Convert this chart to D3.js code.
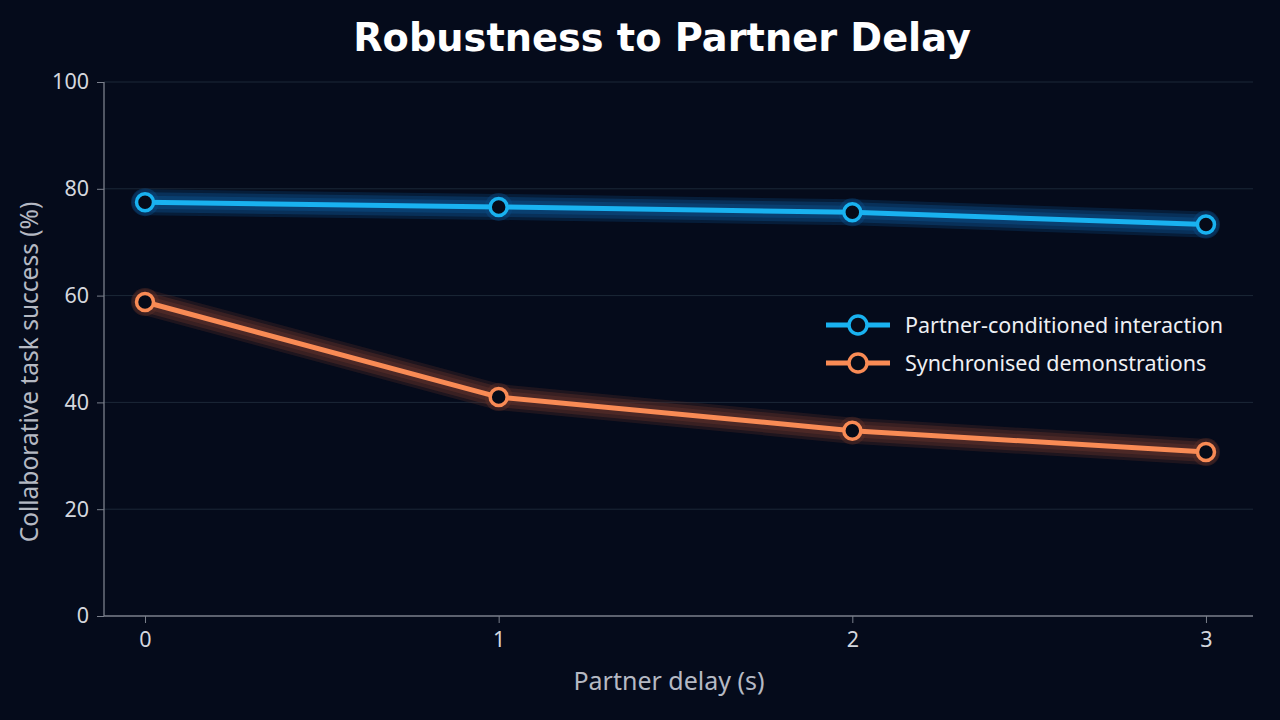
<!DOCTYPE html>
<html><head><meta charset="utf-8">
<script src="https://cdn.jsdelivr.net/npm/d3@7"></script>
<style>
html,body{margin:0;padding:0;background:#050b1b;}
svg{display:block;}
</style></head>
<body>
<svg id="chart" width="1280" height="720"></svg>
<script>
const delays = [0, 1, 2, 3];
const partnerConditioned = [77.5, 76.6, 75.6, 73.3];
const synchronised = [58.8, 41.0, 34.7, 30.7];
const seriesNames = ["Partner-conditioned interaction", "Synchronised demonstrations"];
const seriesColors = ["#19b2f0", "#f98b55"];
const glowColors = ["#0a4a80", "#5a2f29"];
const yTicks = [0, 20, 40, 60, 80, 100];
const xTicks = [0, 1, 2, 3];

const svg = d3.select("#chart");
const W = 1280, H = 720;
const m = {left: 104, right: 27, top: 82, bottom: 104};

svg.append("rect").attr("width", W).attr("height", H).attr("fill", "#050b1b");

const x = d3.scaleLinear().domain([-0.116, 3.133]).range([m.left, W - m.right]);
const y = d3.scaleLinear().domain([0, 100]).range([H - m.bottom, m.top]);

const font = "'Noto Sans', 'Open Sans', sans-serif";

// gridlines
svg.append("g").selectAll("line").data(yTicks.filter(d => d > 0)).join("line")
  .attr("x1", m.left).attr("x2", W - m.right)
  .attr("y1", d => y(d)).attr("y2", d => y(d))
  .attr("stroke", "#1c2838").attr("stroke-width", 1);

// axes
const yAxis = svg.append("g").attr("transform", `translate(${m.left},0)`)
  .call(d3.axisLeft(y).tickValues(yTicks).tickSize(7).tickPadding(8));
const xAxis = svg.append("g").attr("transform", `translate(0,${H - m.bottom})`)
  .call(d3.axisBottom(x).tickValues(xTicks).tickSize(7).tickPadding(9).tickFormat(d3.format("d")));
[yAxis, xAxis].forEach(g => {
  g.select(".domain").attr("stroke", "#7b808c").attr("stroke-width", 1.3);
  g.selectAll(".tick line").attr("stroke", "#7b808c").attr("stroke-width", 1);
  g.selectAll(".tick text").attr("fill", "#d4d7de").attr("font-size", 21.5).attr("font-family", font);
});
yAxis.select(".domain").attr("d", `M0,${y(100)}V${y(0)}`);
xAxis.select(".domain").attr("d", `M${m.left},0H${W - m.right}`);

const data = [partnerConditioned, synchronised];
const line = d3.line().x((d, i) => x(delays[i])).y(d => y(d));

data.forEach((vals, s) => {
  const g = svg.append("g");
  [[26, 0.3], [20, 0.45], [13, 0.6]].forEach(([w, o]) => {
    g.append("path").attr("d", line(vals)).attr("fill", "none")
      .attr("stroke", glowColors[s]).attr("stroke-width", w).attr("stroke-opacity", o)
      .attr("stroke-linejoin", "round").attr("stroke-linecap", "round");
  });
  g.selectAll("circle.halo").data(vals).join("circle").attr("class", "halo")
    .attr("cx", (d, i) => x(delays[i])).attr("cy", d => y(d)).attr("r", 14)
    .attr("fill", glowColors[s]).attr("opacity", 0.45);
  g.append("path").attr("d", line(vals)).attr("fill", "none")
    .attr("stroke", seriesColors[s]).attr("stroke-width", 5)
    .attr("stroke-linejoin", "round").attr("stroke-linecap", "round");
  g.selectAll("circle.pt").data(vals).join("circle").attr("class", "pt")
    .attr("cx", (d, i) => x(delays[i])).attr("cy", d => y(d)).attr("r", 8.5)
    .attr("fill", "#060b18").attr("stroke", seriesColors[s]).attr("stroke-width", 3.5);
});

// legend
const lg = svg.append("g").attr("transform", "translate(826,325)");
seriesNames.forEach((name, i) => {
  const row = lg.append("g").attr("transform", `translate(0,${i * 38})`);
  row.append("line").attr("x1", 0).attr("x2", 64).attr("y1", 0).attr("y2", 0)
    .attr("stroke", seriesColors[i]).attr("stroke-width", 5);
  row.append("circle").attr("cx", 32).attr("cy", 0).attr("r", 9)
    .attr("fill", "#060b18").attr("stroke", seriesColors[i]).attr("stroke-width", 3.5);
  row.append("text").attr("x", 79).attr("y", 0).attr("dy", "0.35em")
    .attr("fill", "#eef0f4").attr("font-size", 21.5).attr("font-family", font).text(name);
});

// title
svg.append("text").attr("x", 662).attr("y", 51).attr("text-anchor", "middle")
  .attr("fill", "#ffffff").attr("font-size", 38.3).attr("font-weight", "bold")
  .attr("font-family", "'DejaVu Sans', sans-serif").text("Robustness to Partner Delay");

// axis labels
svg.append("text").attr("x", 669).attr("y", 690).attr("text-anchor", "middle")
  .attr("fill", "#b5b9c3").attr("font-size", 25).attr("font-family", font).text("Partner delay (s)");
svg.append("text").attr("transform", "translate(38,372) rotate(-90)").attr("text-anchor", "middle")
  .attr("fill", "#b5b9c3").attr("font-size", 24.5).attr("font-family", font).text("Collaborative task success (%)");
</script>
</body></html>
